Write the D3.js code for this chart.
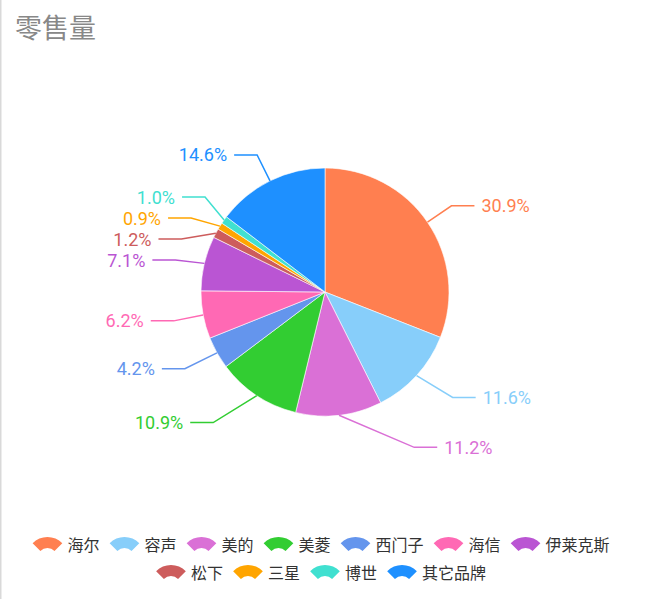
<!DOCTYPE html>
<html><head><meta charset="utf-8">
<script src="https://cdn.jsdelivr.net/npm/d3@7"></script>
<style>body{margin:0;background:#fff}svg{display:block}</style>
</head><body><svg id="c" width="650" height="599"></svg>
<script>
const title = "零售量";
const brands = ["海尔","容声","美的","美菱","西门子","海信","伊莱克斯","松下","三星","博世","其它品牌"];
const shares = [30.9,11.6,11.2,10.9,4.2,6.2,7.1,1.2,0.9,1.0,14.6];
const colors = ["#ff7f50","#87cefa","#da70d6","#32cd32","#6495ed","#ff69b4","#ba55d3","#cd5c5c","#ffa500","#40e0d0","#1e90ff"];

const W = 650, H = 599;
const cx = 325, cy = 292, r = 124;
const len = 29, len2 = 23, gap = 7, lh = 21, stretch = 1.25, yStretch = 1.022;
const svg = d3.select("#c");

svg.append("rect").attr("x",0).attr("y",0).attr("width",1.5).attr("height",H).attr("fill","#d9d9d9");

svg.append("text").attr("x",15).attr("y",38)
  .attr("font-family","'Noto Sans CJK SC', sans-serif").attr("font-size",27)
  .attr("fill","#888").text(title);

const color = d3.scaleOrdinal().domain(brands).range(colors);
const pie = d3.pie().sort(null).value(d => d.v).startAngle(0).endAngle(2*Math.PI);
const arcs = pie(brands.map((b,i) => ({name:b, v:shares[i]})));
const arc = d3.arc().innerRadius(0).outerRadius(r);

const g = svg.append("g").attr("transform",`translate(${cx},${cy})`);
g.selectAll("path").data(arcs).join("path")
  .attr("d", arc).attr("fill", d => color(d.data.name))
  .attr("stroke","#fff").attr("stroke-width",0.6);

// label layout
const rA = r + len;
const items = arcs.map(a => {
  const m = (a.startAngle + a.endAngle)/2;
  const nx = Math.sin(m), ny = -Math.cos(m);
  const dy0 = rA*ny;
  return {a, nx, ny, side: nx < 0 ? -1 : 1,
    edge:[cx + r*nx, cy + r*ny], y: cy + (dy0 > 0 ? dy0*yStretch : dy0)};
});
function resolve(list){
  list.sort((p,q) => p.y - q.y);
  const clusters = []; let cur = null;
  list.forEach(it => {
    it.y0 = it.y;
    if (cur && it.y < cur.last + lh) { it.y = cur.last + lh; cur.items.push(it); }
    else { cur = {items:[it]}; clusters.push(cur); }
    cur.last = it.y;
  });
  clusters.forEach(c => {
    if (c.items.length > 1) {
      const s = 0.5 * d3.sum(c.items, i => i.y - i.y0) / c.items.length;
      c.items.forEach(i => i.y -= s);
    }
  });
}
resolve(items.filter(i => i.side < 0));
resolve(items.filter(i => i.side > 0));
items.forEach(it => {
  const dy = it.y - cy;
  const rB = dy < 0 ? rA : rA*stretch;
  const dx = rA*Math.sqrt(Math.max(0, 1 - dy*dy/(rB*rB)));
  it.elbow = [cx + it.side*dx, it.y];
  it.end = [it.elbow[0] + it.side*len2, it.y];
  it.tx = it.end[0] + it.side*gap;
});
const line = d3.line();
svg.append("g").selectAll("path").data(items).join("path")
  .attr("d", d => line([d.edge, d.elbow, d.end]))
  .attr("fill","none").attr("stroke", d => color(d.a.data.name)).attr("stroke-width",1.5);
svg.append("g").selectAll("text").data(items).join("text")
  .attr("x", d => d.tx).attr("y", d => d.y)
  .attr("text-anchor", d => d.side < 0 ? "end" : "start")
  .attr("dominant-baseline","central")
  .attr("font-family","Roboto, sans-serif").attr("font-size",18)
  .attr("fill", d => color(d.a.data.name))
  .text(d => d3.format(".1f")(d.a.data.v) + "%");

// legend
const legendCx = 321, rowYs = [544, 572], iconW = 30, iconGap = 5, itemGap = 10, maxRow = 620;
const icon = d3.arc().innerRadius(10).outerRadius(21).startAngle(-Math.PI/4).endAngle(Math.PI/4);
const lg = svg.append("g");
const li = lg.selectAll("g").data(brands).join("g");
li.append("path").attr("d", icon()).attr("fill", d => color(d));
li.append("text").attr("dominant-baseline","central")
  .attr("font-family","'Noto Sans CJK SC', sans-serif").attr("font-size",16)
  .attr("fill","#333").attr("x", iconW + iconGap).text(d => d);
const widths = [];
li.each(function(){ widths.push(iconW + iconGap + d3.select(this).select("text").node().getComputedTextLength()); });
const rows = [[]]; let rw = 0;
brands.forEach((b,i) => {
  const w = widths[i] + (rows[rows.length-1].length ? itemGap : 0);
  if (rw + w > maxRow && rows[rows.length-1].length) { rows.push([]); rw = 0; }
  rw += rows[rows.length-1].length ? widths[i] + itemGap : widths[i];
  rows[rows.length-1].push(i);
});
rows.forEach((row, ri) => {
  const total = d3.sum(row, i => widths[i]) + itemGap*(row.length-1);
  let x = legendCx - total/2;
  row.forEach(i => {
    const node = li.filter((d,k) => k === i);
    const y = rowYs[ri];
    node.attr("transform", `translate(${x},${y})`);
    node.select("path").attr("transform", `translate(${iconW/2},14)`);
    x += widths[i] + itemGap;
  });
});
</script></body></html>
